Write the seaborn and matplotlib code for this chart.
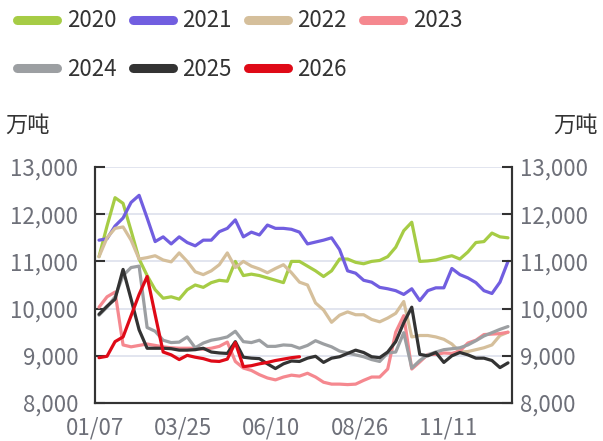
import numpy as np
import pandas as pd
import seaborn as sns
import matplotlib.pyplot as plt
from matplotlib.lines import Line2D
from matplotlib.ticker import FuncFormatter

# weekly values, 万吨
y2020 = [11100, 11750, 12350, 12230, 11650, 11050, 10700, 10400, 10220, 10250,
         10200, 10400, 10500, 10450, 10550, 10600, 10580, 11000, 10700, 10730,
         10700, 10650, 10600, 10550, 11000, 11000, 10900, 10800, 10680, 10800,
         11050, 11050, 10980, 10950, 11000, 11020, 11100, 11300, 11650, 11830,
         11000, 11010, 11030, 11080, 11120, 11050, 11200, 11400, 11420, 11600,
         11520, 11500]
y2021 = [11450, 11480, 11750, 11920, 12250, 12400, 11920, 11420, 11520, 11370,
         11520, 11400, 11330, 11450, 11450, 11630, 11700, 11880, 11520, 11620,
         11560, 11770, 11700, 11700, 11680, 11620, 11370, 11410, 11450, 11500,
         11250, 10800, 10750, 10600, 10560, 10450, 10420, 10380, 10300, 10420,
         10170, 10380, 10440, 10440, 10850, 10720, 10650, 10550, 10380, 10320,
         10560, 11000]
y2022 = [11100, 11500, 11700, 11730, 11450, 11050, 11080, 11120, 11030, 10990,
         11180, 11000, 10780, 10720, 10800, 10930, 11180, 10870, 11000, 10900,
         10840, 10760, 10850, 10930, 10760, 10560, 10500, 10120, 9970, 9710,
         9860, 9930, 9870, 9870, 9770, 9720, 9800, 9900, 10150, 9400,
         9430, 9430, 9400, 9350, 9250, 9080, 9090, 9130, 9170, 9230,
         9430, 9500]
y2023 = [10030, 10250, 10350, 9230, 9190, 9220, 9250, 9220, 9190, 9170,
         9160, 9160, 9160, 9140, 9160, 9200, 9290, 8880, 8740, 8690,
         8600, 8530, 8490, 8550, 8590, 8570, 8630, 8550, 8440, 8400,
         8400, 8390, 8400, 8480, 8550, 8550, 8720, 9500, 9850, 8720,
         8870, 9030, 9030, 9060, 9050, 9100, 9270, 9330, 9450, 9460,
         9470, 9500]
y2024 = [9860, 10030, 10250, 10700, 10870, 10900, 9600, 9520, 9330, 9280,
         9290, 9400, 9170, 9270, 9330, 9360, 9400, 9520, 9300, 9280,
         9330, 9200, 9200, 9230, 9220, 9160, 9220, 9320, 9250, 9190,
         9100, 9060, 9020, 8980, 8920, 8880, 9060, 9080, 9490, 8740,
         8900, 9020, 9080, 9130, 9150, 9170, 9230, 9320, 9420, 9490,
         9560, 9620]
y2025 = [9880, 10050, 10200, 10830, 10200, 9550, 9160, 9160, 9160, 9150,
         9120, 9120, 9130, 9160, 9080, 9060, 9050, 9300, 8970, 8950,
         8940, 8830, 8730, 8830, 8890, 8880, 8950, 8990, 8860, 8950,
         8980, 9050, 9120, 9070, 8980, 8960, 9080, 9300, 9700, 10030,
         9030, 9000, 9070, 8860, 9000, 9070, 9020, 8950, 8950, 8900,
         8750, 8850]
y2026 = [8960, 8990, 9300, 9400, 9850, 10300, 10680, 9870, 9080, 9020,
         8920, 9010, 8970, 8940, 8890, 8880, 8930, 9280, 8770, 8790,
         8830, 8860, 8900, 8930, 8960, 8980]

years = ['2020', '2021', '2022', '2023', '2024', '2025', '2026']
series = [y2020, y2021, y2022, y2023, y2024, y2025, y2026]
colors = ['#a6cc45', '#715ee0', '#d5bf9b', '#f5888f', '#9c9fa2', '#333333', '#df0a17']
tick_labels = ['01/07', '03/25', '06/10', '08/26', '11/11']
tick_weeks = [0, 11, 22, 33, 44]
y_ticks = [8000, 9000, 10000, 11000, 12000, 13000]

rows = []
for yr, vals in zip(years, series):
    for i, v in enumerate(vals):
        rows.append({'year': yr, 'week': i + 0.5, 'value': v})
df = pd.DataFrame(rows)

sns.set_style('white')
plt.rcParams['font.family'] = ['Noto Sans CJK SC', 'DejaVu Sans']

fig = plt.figure(figsize=(6.03, 4.41), dpi=100)
ax = fig.add_axes([95 / 603, 1 - 403 / 441, 417 / 603, 236 / 441])

for y in y_ticks[1:]:
    ax.axhline(y, color='#dfe3ee', lw=1.3, zorder=0)

sns.lineplot(data=df, x='week', y='value', hue='year', palette=colors,
             linewidth=2.3, legend=False, ax=ax)

ax.set_xlim(0, 52)
ax.set_ylim(8000, 13000)
ax.set_xticks(tick_weeks)
ax.set_xticklabels(tick_labels)
ax.set_yticks(y_ticks)
ax.yaxis.set_major_formatter(FuncFormatter(lambda v, p: f'{int(v):,}'))
ax.set_xlabel('')
ax.set_ylabel('')

ax2 = ax.twinx()
ax2.set_ylim(8000, 13000)
ax2.set_yticks(y_ticks)
ax2.yaxis.set_major_formatter(FuncFormatter(lambda v, p: f'{int(v):,}'))

for a in (ax, ax2):
    for s in a.spines.values():
        s.set_color('#333333')
        s.set_linewidth(1.5)
    a.spines['top'].set_visible(False)

ax.tick_params(axis='y', direction='in', length=7, width=1.5, color='#333333',
               labelsize=16, labelcolor='#6e7079', pad=12)
ax.tick_params(axis='x', direction='in', length=7, width=1.5, color='#333333',
               labelsize=16, labelcolor='#6e7079', pad=10)
ax2.tick_params(axis='y', direction='in', length=7, width=1.5, color='#333333',
                labelsize=16, labelcolor='#6e7079', pad=6)

fig.text(5 / 603, 1 - 125 / 441, '万吨', fontsize=16, color='#333333', ha='left', va='center')
fig.text(598 / 603, 1 - 125 / 441, '万吨', fontsize=16, color='#333333', ha='right', va='center')

# legend fills column by column, so order for two rows of four
order = [0, 4, 1, 5, 2, 6, 3]
handles = [Line2D([0], [0], color=colors[k], lw=6.5, solid_capstyle='round') for k in order]
labels = [years[k] for k in order]
fig.legend(handles, labels, loc='upper left', bbox_to_anchor=(4 / 603, 1.0 + 4 / 441), ncol=4,
           frameon=False, fontsize=16, handlelength=1.8, handletextpad=0.45,
           columnspacing=0.7, labelspacing=1.15, labelcolor='#333333',
           borderaxespad=0.2)

fig.savefig('out.png', dpi=100)
